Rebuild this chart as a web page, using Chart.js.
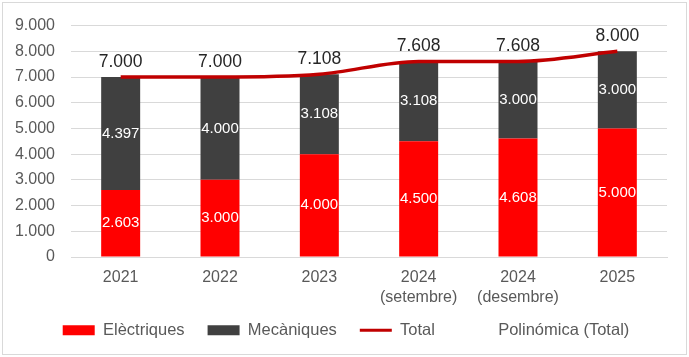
<!DOCTYPE html>
<html><head><meta charset="utf-8">
<script src="https://cdn.jsdelivr.net/npm/chart.js@4"></script>
<style>html,body{margin:0;padding:0;background:#fff}#w{width:689px;height:357px}</style>
</head><body><div id="w"><canvas id="c"></canvas></div>
<script>
const categories = [['2021'], ['2022'], ['2023'], ['2024', '(setembre)'], ['2024', '(desembre)'], ['2025']];
const electriques = [2603, 3000, 4000, 4500, 4608, 5000];
const mecaniques = [4397, 4000, 3108, 3108, 3000, 3000];
const total = [7000, 7000, 7108, 7608, 7608, 8000];
const yTicks = [0, 1000, 2000, 3000, 4000, 5000, 6000, 7000, 8000, 9000];

const fmt = v => v.toLocaleString('de-DE');
const FONT = '"Liberation Sans", Arial, sans-serif';

const labelsPlugin = {
  id: 'labels',
  afterDatasetsDraw(chart) {
    const ctx = chart.ctx;
    ctx.save();
    ctx.textAlign = 'center';
    ctx.textBaseline = 'middle';
    [0, 1].forEach(di => {
      const meta = chart.getDatasetMeta(di);
      meta.data.forEach((bar, i) => {
        const p = bar.getProps(['x', 'y', 'base'], true);
        ctx.fillStyle = '#ffffff';
        ctx.font = '15px ' + FONT;
        ctx.fillText(fmt(chart.data.datasets[di].data[i]), p.x, (p.y + p.base) / 2);
      });
    });
    const lm = chart.getDatasetMeta(2);
    lm.data.forEach((pt, i) => {
      ctx.fillStyle = '#262626';
      ctx.font = '17.5px ' + FONT;
      ctx.fillText(fmt(total[i]), pt.x, pt.y - 15);
    });
    ctx.restore();
  }
};
const frame = {
  id: 'frame',
  beforeDraw(chart) {
    const ctx = chart.ctx;
    ctx.save();
    ctx.fillStyle = '#fff';
    ctx.fillRect(0, 0, chart.width, chart.height);
    ctx.strokeStyle = '#d9d9d9';
    ctx.lineWidth = 1;
    ctx.strokeRect(2.5, 2.5, chart.width - 5, chart.height - 5);
    ctx.restore();
  }
};
let LEGEND_SHIFT_X = 5;
let LEGEND_SHIFT_Y = -8;
// keep the legend box compact (fixed height) and place its row
const legendFit = {
  id: 'legendFit',
  beforeLayout(chart) {
    const lg = chart.legend;
    if (lg && !lg._patched) {
      lg._patched = true;
      const of = lg.fit.bind(lg);
      lg.fit = function () { of(); this.height = 42; };
      const od = lg.draw.bind(lg);
      lg.draw = function () {
        const ctx = this.ctx;
        ctx.save();
        ctx.translate(LEGEND_SHIFT_X, LEGEND_SHIFT_Y);
        od();
        ctx.restore();
      };
    }
  }
};

new Chart(document.getElementById('c'), {
  data: {
    labels: categories,
    datasets: [
      { type: 'bar', label: 'Elèctriques', data: electriques, backgroundColor: '#ff0000', stack: 's', order: 1, barPercentage: 0.785, categoryPercentage: 0.5 },
      { type: 'bar', label: 'Mecàniques', data: mecaniques, backgroundColor: '#404040', stack: 's', order: 1, barPercentage: 0.785, categoryPercentage: 0.5 },
      { type: 'line', label: 'Total', data: total, borderColor: '#c00000', backgroundColor: '#c00000', borderWidth: 3.5, pointRadius: 0, cubicInterpolationMode: 'monotone', stack: 't', order: 0 },
      { type: 'line', label: 'Polinómica (Total)', data: [], borderColor: 'rgba(0,0,0,0)', backgroundColor: 'rgba(0,0,0,0)', borderWidth: 0, pointRadius: 0, stack: 'p', order: 0 }
    ]
  },
  options: {
    responsive: true,
    maintainAspectRatio: false,
    animation: false,
    layout: { padding: { left: 15, right: 22, top: 12, bottom: 8 } },
    plugins: {
      tooltip: { enabled: false },
      legend: {
        position: 'bottom',
        labels: {
          usePointStyle: true,
          pointStyleWidth: 32,
          boxHeight: 10,
          padding: 23,
          color: '#595959',
          font: { size: 16.5, family: FONT },
          generateLabels(chart) {
            return chart.data.datasets.map((d, i) => ({
              text: d.label,
              fillStyle: d.type === 'bar' ? d.backgroundColor : 'rgba(0,0,0,0)',
              strokeStyle: d.type === 'bar' ? d.backgroundColor : d.borderColor,
              lineWidth: d.type === 'bar' ? 0 : 3,
              pointStyle: d.type === 'bar' ? 'rect' : 'line',
              datasetIndex: i,
              hidden: false,
              fontColor: '#595959'
            }));
          }
        }
      }
    },
    scales: {
      x: {
        stacked: true,
        grid: { display: false, drawTicks: false },
        border: { color: '#d9d9d9' },
        ticks: { color: '#595959', font: { size: 16, family: FONT, lineHeight: 1.25 }, padding: 11 },
        afterFit(s) { s.height = 50; }
      },
      y: {
        stacked: true,
        min: 0, max: 9000,
        afterBuildTicks(ax) { ax.ticks = yTicks.map(v => ({ value: v })); },
        grid: { color: '#d9d9d9', drawTicks: false },
        border: { display: false },
        ticks: { color: '#595959', font: { size: 16, family: FONT }, padding: 16, callback: v => fmt(v) },
        afterFit(s) { s.width = 56; }
      }
    }
  },
  plugins: [frame, labelsPlugin, legendFit]
});
</script></body></html>
